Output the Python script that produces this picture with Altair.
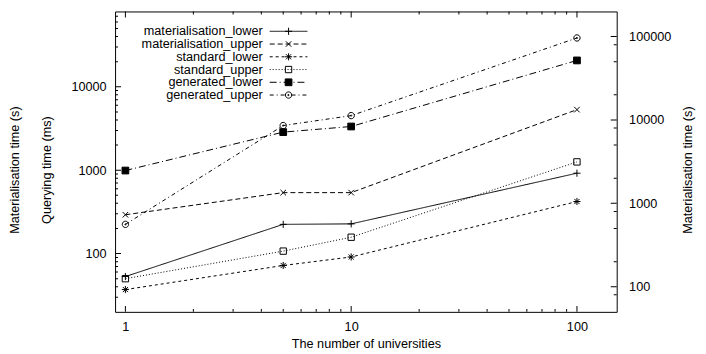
import altair as alt
import pandas as pd

# ---------------- data ----------------
universities = [1, 5, 10, 100]
series_names = [
    "materialisation_lower",
    "materialisation_upper",
    "standard_lower",
    "standard_upper",
    "generated_lower",
    "generated_upper",
]
materialisation_lower = [53, 224, 227, 920]
materialisation_upper = [292, 538, 538, 5320]
standard_lower = [37, 72, 91, 421]
standard_upper = [50, 107, 157, 1257]
generated_lower = [990, 2860, 3340, 20700]
generated_upper = [224, 3430, 4510, 38500]

x_major = [1, 10, 100]
left_major = [100, 1000, 10000]
right_major = [100, 1000, 10000, 100000]

x_title = "The number of universities"
left_title_outer = "Materialisation time (s)"
left_title_inner = "Querying time (ms)"
right_title = "Materialisation time (s)"

# ---------------- tables ----------------
values_by_series = [materialisation_lower, materialisation_upper, standard_lower,
                    standard_upper, generated_lower, generated_upper]
rows = []
for name, vals in zip(series_names, values_by_series):
    for u, v in zip(universities, vals):
        rows.append({"series": name, "universities": u, "time": v})
df = pd.DataFrame(rows)

x_minor = [m * 10 ** e for e in (0, 1) for m in range(2, 10)]
left_minor = [m * 10 ** e for e in (1, 2, 3, 4) for m in range(2, 10) if 20 < m * 10 ** e < 80000]
right_minor = [m * 10 ** e for e in (1, 2, 3, 4, 5) for m in (2, 5, 8) if 50 < m * 10 ** e < 200000]

MAJOR, MINOR = 12, 6
x_ticks = pd.DataFrame({"universities": x_major + x_minor,
                        "len": [MAJOR] * len(x_major) + [MINOR] * len(x_minor)})
left_ticks = pd.DataFrame({"t": left_major + left_minor, "len": [MAJOR] * len(left_major) + [MINOR] * len(left_minor)})
right_ticks = pd.DataFrame({"t": right_major + right_minor, "len": [MAJOR] * len(right_major) + [MINOR] * len(right_minor)})
legend_df = pd.DataFrame({"series": series_names, "row": list(range(len(series_names)))})

# ---------------- styles ----------------
FONT = "Liberation Sans"
FS = 12.8
W, H = 506, 303

dash_range = [[1, 0], [5, 3], [3, 3], [1, 2], [7, 3, 1, 3], [4, 3, 1, 3]]
shape_range = [
    "M-0.9,0L0.9,0M0,-0.9L0,0.9",
    "M-0.7,-0.7L0.7,0.7M-0.7,0.7L0.7,-0.7",
    "M-0.9,0L0.9,0M0,-0.9L0,0.9M-0.65,-0.65L0.65,0.65M-0.65,0.65L0.65,-0.65",
    "M-0.8,-0.8L0.8,-0.8L0.8,0.8L-0.8,0.8Z",
    "M-0.85,-0.85L0.85,-0.85L0.85,0.85L-0.85,0.85Z",
    "M0.8,0A0.8,0.8 0 1,1 -0.8,0A0.8,0.8 0 1,1 0.8,0ZM0.15,0A0.15,0.15 0 1,1 -0.15,0A0.15,0.15 0 1,1 0.15,0Z",
]
fill_range = ["transparent", "transparent", "transparent", "transparent", "black", "transparent"]

dash_enc = alt.StrokeDash("series:N", scale=alt.Scale(domain=series_names, range=dash_range), legend=None)
shape_enc = alt.Shape("series:N", scale=alt.Scale(domain=series_names, range=shape_range), legend=None)
fill_enc = alt.Fill("series:N", scale=alt.Scale(domain=series_names, range=fill_range), legend=None)

x_scale = alt.Scale(type="log", domain=[0.9, 150])
left_scale = alt.Scale(type="log", domain=[20, 80000])
right_scale = alt.Scale(type="log", domain=[50, 200000])

x_axis = alt.Axis(values=x_major, format="d", title=x_title, orient="bottom", ticks=False,
                  tickSize=0, domain=False, grid=False, labelPadding=9, labelFlush=False,
                  labelOverlap=False, titlePadding=4, titleFontWeight="normal")
left_axis = alt.Axis(values=left_major, format="d", title=None, orient="left", ticks=False,
                     tickSize=0, domain=False, grid=False, labelPadding=9, labelFlush=False,
                     labelOverlap=False)
right_axis = alt.Axis(values=right_major, format="d", title=None, orient="right",
                      ticks=False, tickSize=0, domain=False, grid=False, labelPadding=12,
                      labelFlush=False, labelOverlap=False)

x_enc = alt.X("universities:Q", scale=x_scale, axis=x_axis)

# ---------------- data layers (left axis) ----------------
lines = alt.Chart(df).mark_line(color="black", strokeWidth=1).encode(
    x=x_enc,
    y=alt.Y("time:Q", scale=left_scale, axis=left_axis),
    strokeDash=dash_enc,
)
points = alt.Chart(df).mark_point(size=64, opacity=1, strokeWidth=1, stroke="black").encode(
    x=x_enc,
    y=alt.Y("time:Q", scale=left_scale, axis=None),
    shape=shape_enc,
    fill=fill_enc,
)

def x_tick_layer(pos):
    return alt.Chart(x_ticks).mark_tick(color="black", thickness=1, clip=True, orient="vertical", opacity=1).encode(
        x=x_enc,
        y=alt.value(pos),
        size=alt.Size("len:Q", scale=None, legend=None),
    )

def y_tick_layer(table, pos, scale, axis=None):
    return alt.Chart(table).mark_tick(color="black", thickness=1, clip=True, orient="horizontal", opacity=1).encode(
        y=alt.Y("t:Q", scale=scale, axis=axis),
        x=alt.value(pos),
        size=alt.Size("len:Q", scale=None, legend=None),
    )

x_ticks_bottom = x_tick_layer(H)
x_ticks_top = x_tick_layer(0)
y_ticks_left = y_tick_layer(left_ticks, 0, left_scale)
y_ticks_right = y_tick_layer(right_ticks, W, right_scale, right_axis)

# ---------------- key (legend) and titles ----------------
row_scale = alt.Scale(domain=[0, len(series_names) - 1], range=[20, 84.3])
key_text = alt.Chart(legend_df).mark_text(align="right", baseline="middle", font=FONT, fontSize=FS, color="black").encode(
    x=alt.value(149),
    y=alt.Y("row:Q", scale=row_scale, axis=None),
    text="series:N",
)
key_line = alt.Chart(legend_df).mark_rule(color="black", strokeWidth=1).encode(
    x=alt.value(156),
    x2=alt.value(194),
    y=alt.Y("row:Q", scale=row_scale, axis=None),
    strokeDash=dash_enc,
)
key_point = alt.Chart(legend_df).mark_point(size=64, opacity=1, strokeWidth=1, stroke="black").encode(
    x=alt.value(175),
    y=alt.Y("row:Q", scale=row_scale, axis=None),
    shape=shape_enc,
    fill=fill_enc,
)

def vtitle(text, xpos):
    return alt.Chart(pd.DataFrame({"t": [text]})).mark_text(
        angle=270, align="center", baseline="middle", font=FONT, fontSize=FS, color="black"
    ).encode(x=alt.value(xpos), y=alt.value(160), text="t:N")

chart = alt.layer(
    lines, points, x_ticks_bottom, x_ticks_top, y_ticks_left, y_ticks_right,
    key_text, key_line, key_point,
    vtitle(left_title_outer, -101),
    vtitle(left_title_inner, -69),
    vtitle(right_title, 578),
).resolve_scale(
    y="independent"
).properties(
    width=W,
    height=H,
    autosize=alt.AutoSizeParams(type="none"),
    padding={"left": 108, "top": 2, "right": 82, "bottom": 40},
    background="white",
).configure_view(
    stroke="black", strokeWidth=1
).configure_axis(
    labelFont=FONT, labelFontSize=FS, labelColor="black",
    titleFont=FONT, titleFontSize=FS, titleColor="black",
)

chart.save("out.html", embed_options={"renderer": "svg", "actions": False})
